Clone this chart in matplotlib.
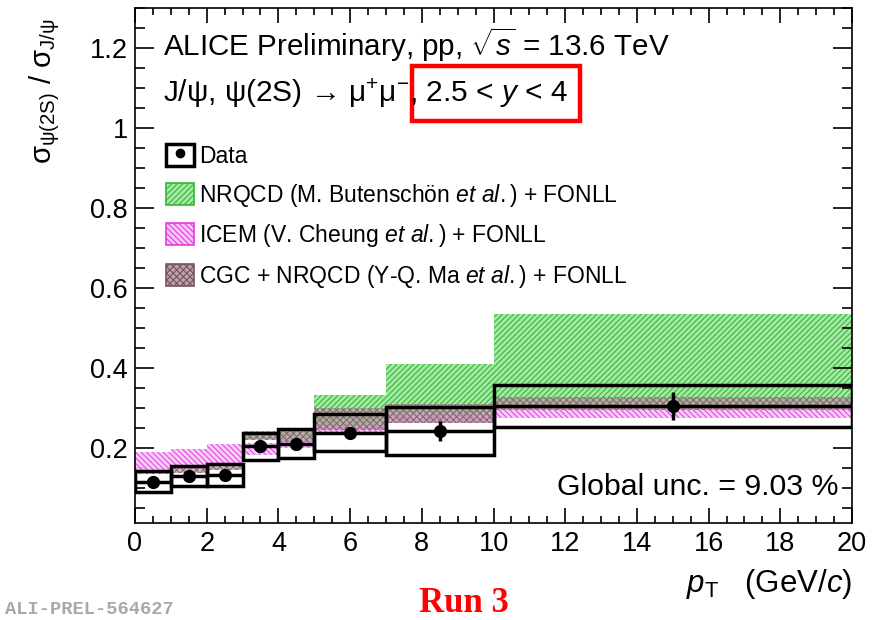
import matplotlib
matplotlib.use('Agg')
import matplotlib.pyplot as plt
import matplotlib.patches as mpatches
from matplotlib.lines import Line2D
from matplotlib.legend_handler import HandlerTuple
from matplotlib.ticker import MultipleLocator, FuncFormatter
import numpy as np

plt.rcParams['font.family'] = ['Liberation Sans', 'DejaVu Sans']
plt.rcParams['mathtext.fontset'] = 'custom'
plt.rcParams['mathtext.rm'] = 'Liberation Sans'
plt.rcParams['mathtext.it'] = 'Liberation Sans:italic'
plt.rcParams['mathtext.bf'] = 'Liberation Sans:bold'
plt.rcParams['hatch.linewidth'] = 0.8

# pT bins (GeV/c)
bin_lo = [0, 1, 2, 3, 4, 5, 7, 10]
bin_hi = [1, 2, 3, 4, 5, 7, 10, 20]

# psi(2S) / J/psi cross section ratio
ratio = [0.116, 0.130, 0.132, 0.204, 0.211, 0.238, 0.242, 0.305]
stat_err = [0.004, 0.004, 0.004, 0.006, 0.015, 0.012, 0.025, 0.035]
syst_err = [0.026, 0.025, 0.027, 0.033, 0.037, 0.046, 0.060, 0.052]

# NRQCD (Butenschoen) + FONLL, only pT > 3
nrqcd_bin_lo = [3, 4, 5, 7, 10]
nrqcd_bin_hi = [4, 5, 7, 10, 20]
nrqcd_lo = [0.222, 0.220, 0.245, 0.262, 0.295]
nrqcd_hi = [0.242, 0.247, 0.333, 0.411, 0.535]

# ICEM (Cheung) + FONLL
icem_lo = [0.145, 0.157, 0.160, 0.182, 0.199, 0.232, 0.262, 0.274]
icem_hi = [0.189, 0.197, 0.209, 0.213, 0.222, 0.255, 0.285, 0.300]

# CGC + NRQCD (Ma) + FONLL
cgc_lo = [0.135, 0.137, 0.145, 0.220, 0.216, 0.245, 0.262, 0.295]
cgc_hi = [0.146, 0.154, 0.162, 0.238, 0.249, 0.300, 0.310, 0.328]

green_fc, green_ec = '#a6e8a6', '#35b835'
pink_fc, pink_ec = '#f9c8f9', '#e23ce2'
cgc_fc, cgc_ec = '#bfa2aa', '#765462'

fig = plt.figure(figsize=(8.72, 6.2), dpi=100)
ax = fig.add_axes([135 / 872, 97 / 620, 717 / 872, 515 / 620])


def band(lo_edges, hi_edges, lo, hi, **kw):
    lo_edges = np.array(lo_edges, float)
    widths = np.array(hi_edges, float) - lo_edges
    heights = np.array(hi) - np.array(lo)
    ax.bar(lo_edges, heights, width=widths, bottom=lo, align='edge', linewidth=0, **kw)


band(nrqcd_bin_lo, nrqcd_bin_hi, nrqcd_lo, nrqcd_hi,
     facecolor=green_fc, edgecolor=green_ec, hatch='//////', zorder=1)
band(bin_lo, bin_hi, icem_lo, icem_hi,
     facecolor=pink_fc, edgecolor=pink_ec, hatch='\\\\\\\\\\\\', alpha=0.9, zorder=2)
band(bin_lo, bin_hi, cgc_lo, cgc_hi,
     facecolor=cgc_fc, edgecolor=cgc_ec, hatch='xxxxx', alpha=0.75, zorder=3)

# systematic uncertainty boxes
centers = (np.array(bin_lo) + np.array(bin_hi)) / 2
half_w = (np.array(bin_hi) - np.array(bin_lo)) / 2
ax.bar(bin_lo, 2 * np.array(syst_err), width=2 * half_w,
       bottom=np.array(ratio) - np.array(syst_err), align='edge',
       fill=False, edgecolor='black', linewidth=2.5, zorder=4)

# data points with stat errors
ax.errorbar(centers, ratio, xerr=half_w, yerr=stat_err, fmt='o', color='black',
            markersize=8.5, elinewidth=2.5, capsize=0, zorder=5)

ax.set_xlim(0, 20)
ax.set_ylim(0.0125, 1.3)
ax.xaxis.set_major_locator(MultipleLocator(2))
ax.xaxis.set_minor_locator(MultipleLocator(0.5))
ax.yaxis.set_major_locator(MultipleLocator(0.2))
ax.yaxis.set_minor_locator(MultipleLocator(0.05))
ax.yaxis.set_major_formatter(FuncFormatter(lambda v, p: '%g' % round(v, 2)))
ax.tick_params(axis='both', which='both', direction='in', top=True, right=True, width=1.2)
ax.tick_params(axis='y', which='major', length=14, labelsize=19.5, pad=5)
ax.tick_params(axis='y', which='minor', length=7)
ax.tick_params(axis='x', which='major', length=10.5, labelsize=19.5, pad=6)
ax.tick_params(axis='x', which='minor', length=5.3)
for s in ax.spines.values():
    s.set_linewidth(1.2)

fig.text(45 / 872, 1 - 18 / 620,
         r'$\mathrm{\sigma_{\psi(2S)}}$ / $\mathrm{\sigma_{J/\psi}}$',
         rotation=90, ha='center', va='top', fontsize=21)
fig.text(852 / 872, 1 - 592 / 620, r'$p_{\mathrm{T}}$   (GeV/$c$)',
         ha='right', va='baseline', fontsize=22.5)

fig.text(163 / 872, 1 - 56 / 620,
         r'ALICE Preliminary, pp, $\sqrt{s}$ = 13.6 TeV',
         ha='left', va='baseline', fontsize=21.3)
fig.text(163 / 872, 1 - 102 / 620,
         r'J/ψ, ψ(2S) → $\mathrm{\mu^{+}\mu^{-}}$, 2.5 < $y$ < 4',
         ha='left', va='baseline', fontsize=21.5)
fig.patches.append(mpatches.Rectangle((412 / 872, 1 - 121 / 620), 168 / 872, 55 / 620,
                                      transform=fig.transFigure, fill=False,
                                      edgecolor='#ff0000', linewidth=3.2))

fig.text(557 / 872, 1 - 495 / 620, 'Global unc. = 9.03 %',
         ha='left', va='baseline', fontsize=21.8)

fig.text(464 / 872, 1 - 612 / 620, 'Run 3', ha='center', va='baseline',
         fontsize=25, fontweight='bold', color='#ff0000', family='Liberation Serif')
fig.text(5 / 872, 1 - 614 / 620, 'ALI-PREL-564627', ha='left', va='baseline',
         fontsize=13.5, fontweight='bold', color='#a8a8a8', family='Liberation Mono')

# legend
data_handle = (mpatches.Rectangle((0, 0), 1, 1, fill=False, edgecolor='black', linewidth=2.5),
               Line2D([], [], marker='o', color='black', linestyle='none', markersize=6))
handles = [
    data_handle,
    mpatches.Patch(facecolor=green_fc, edgecolor=green_ec, hatch='//////', linewidth=1.2),
    mpatches.Patch(facecolor=pink_fc, edgecolor=pink_ec, hatch='\\\\\\\\\\\\', linewidth=1.2),
    mpatches.Patch(facecolor=cgc_fc, edgecolor=cgc_ec, hatch='xxxxx', linewidth=1.2),
]
labels = [
    'Data',
    r'NRQCD (M. Butenschön $\mathit{et\ al.}$) + FONLL',
    r'ICEM (V. Cheung $\mathit{et\ al.}$) + FONLL',
    r'CGC + NRQCD (Y-Q. Ma $\mathit{et\ al.}$) + FONLL',
]
ax.legend(handles, labels, loc='upper left',
          bbox_to_anchor=(166 / 872, 1 - 144 / 620), bbox_transform=fig.transFigure,
          frameon=False, fontsize=16.5, borderpad=0, borderaxespad=0,
          handlelength=1.22, handleheight=1.1, handletextpad=0.22, labelspacing=0.6,
          handler_map={tuple: HandlerTuple(ndivide=1)})

fig.savefig('out.png', dpi=100)
